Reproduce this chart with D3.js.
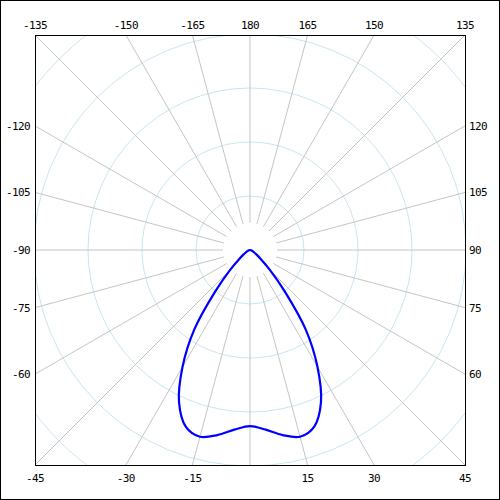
<!DOCTYPE html>
<html>
<head>
<meta charset="utf-8">
<script src="https://cdn.jsdelivr.net/npm/d3@7"></script>
<style>
    html, body { margin: 0; padding: 0; background: #fff; }
    .axis-label { font-family: "DejaVu Sans Mono", monospace; font-size: 11px; letter-spacing: -0.6px; fill: #000; }
</style>
</head>
<body>
<div id="chart"></div>
<script>
// angle in degrees, 0 = straight down, 90 = right
var curveAngles = [-90, -85, -80, -75, -70, -65, -60, -55, -50, -45, -40, -35, -30, -25, -20, -15, -10, -5,
    0, 5, 10, 15, 20, 25, 30, 35, 40, 45, 50, 55, 60, 65, 70, 75, 80, 85, 90];
var curveValues = [0, 0, 1, 2, 4, 6, 9, 15, 26, 52, 100, 180, 250, 311, 348, 358, 348, 334,
    326, 334, 348, 358, 348, 311, 250, 180, 100, 52, 26, 15, 9, 6, 4, 2, 1, 0, 0];

var rayAngles = [-165, -150, -135, -120, -105, -90, -75, -60, -45, -30, -15, 0,
    15, 30, 45, 60, 75, 90, 105, 120, 135, 150, 165, 180];
var labelAngles = [-165, -150, -135, -120, -105, -90, -75, -60, -45, -30, -15,
    15, 30, 45, 60, 75, 90, 105, 120, 135, 150, 165, 180];
var circleValues = [100, 200, 300, 400, 500];

(function () {
    "use strict";

    var width = 500, height = 500;
    var plot = { left: 35, top: 35, size: 430 };
    var cx = plot.left + plot.size / 2;
    var cy = plot.top + plot.size / 2;
    var half = plot.size / 2;

    var r = d3.scaleLinear().domain([0, 100]).range([0, 54]);
    var rad = function (deg) { return deg * Math.PI / 180; };

    var svg = d3.select('#chart').append('svg')
        .attr('width', width)
        .attr('height', height);

    svg.append('rect')
        .attr('x', 0.5).attr('y', 0.5)
        .attr('width', width - 1).attr('height', height - 1)
        .attr('fill', '#fff').attr('stroke', '#000');

    svg.append('clipPath').attr('id', 'plot-clip')
        .append('rect')
        .attr('x', plot.left).attr('y', plot.top)
        .attr('width', plot.size).attr('height', plot.size);

    var g = svg.append('g')
        .attr('clip-path', 'url(#plot-clip)')
        .append('g')
        .attr('transform', 'translate(' + cx + ',' + cy + ')');

    // grid circles
    g.selectAll('.grid-circle')
        .data(circleValues)
        .enter().append('circle')
        .attr('class', 'grid-circle')
        .attr('r', function (d) { return r(d); })
        .attr('fill', 'none')
        .attr('stroke', '#c8e6ef');

    // grid rays
    g.selectAll('.grid-ray')
        .data(rayAngles)
        .enter().append('line')
        .attr('class', 'grid-ray')
        .attr('x1', function (d) { return r(50) * Math.sin(rad(d)); })
        .attr('y1', function (d) { return r(50) * Math.cos(rad(d)); })
        .attr('x2', function (d) { return r(700) * Math.sin(rad(d)); })
        .attr('y2', function (d) { return r(700) * Math.cos(rad(d)); })
        .attr('stroke', '#c4c4c4');

    // curve
    var points = curveAngles.map(function (a, i) { return [a, curveValues[i]]; });
    var line = d3.lineRadial()
        .angle(function (d) { return Math.PI - rad(d[0]); })
        .radius(function (d) { return r(d[1]); })
        .curve(d3.curveCatmullRom);

    g.append('path')
        .datum(points)
        .attr('d', line)
        .attr('fill', 'none')
        .attr('stroke', '#0000ff')
        .attr('stroke-width', 2.2)
        .attr('stroke-linejoin', 'round');

    // plot frame
    svg.append('rect')
        .attr('x', plot.left + 0.5).attr('y', plot.top + 0.5)
        .attr('width', plot.size).attr('height', plot.size)
        .attr('fill', 'none').attr('stroke', '#000');

    // angle labels where the rays meet the frame
    labelAngles.forEach(function (a) {
        var s = Math.sin(rad(a)), c = Math.cos(rad(a));
        var t = half / Math.max(Math.abs(s), Math.abs(c));
        var x = cx + s * t, y = cy + c * t;
        var text = svg.append('text').attr('class', 'axis-label').text(a);
        if (Math.abs(c) >= Math.abs(s) - 1e-6) {
            text.attr('x', x).attr('text-anchor', 'middle');
            if (c < 0) text.attr('y', y - 6);
            else text.attr('y', y + 17);
        } else {
            text.attr('y', y + 4);
            if (s < 0) text.attr('x', x - 5).attr('text-anchor', 'end');
            else text.attr('x', x + 4).attr('text-anchor', 'start');
        }
    });
})();
</script>
</body>
</html>
